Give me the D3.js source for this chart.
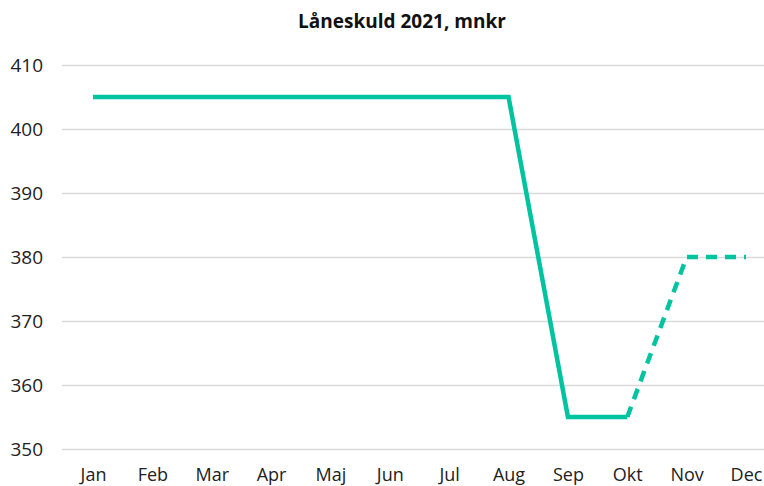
<!DOCTYPE html>
<html>
<head>
<meta charset="utf-8">
<script src="https://cdn.jsdelivr.net/npm/d3@7"></script>
<style>
  body { margin: 0; background: #fff; }
  svg { display: block; font-family: "Open Sans", sans-serif; }
</style>
</head>
<body>
<svg id="chart" width="764" height="486"></svg>
<script>
var months = ['Jan', 'Feb', 'Mar', 'Apr', 'Maj', 'Jun', 'Jul', 'Aug', 'Sep', 'Okt', 'Nov', 'Dec']
var actual = [405, 405, 405, 405, 405, 405, 405, 405, 355, 355, null, null]
var forecast = [null, null, null, null, null, null, null, null, null, 355, 380, 380]
var yTicks = [350, 360, 370, 380, 390, 400, 410]

var WIDTH = 764,
	HEIGHT = 486,
	LINE_COLOR = '#00c4a0',
	GRID_COLOR = '#d9d9d9',
	TEXT_COLOR = '#222'

var svg = d3.select('#chart')

var x = d3.scalePoint().domain(months).range([93, 746])
var y = d3.scaleLinear().domain([350, 410]).range([449, 65])

svg.append('text')
	.attr('x', 402)
	.attr('y', 28)
	.attr('text-anchor', 'middle')
	.attr('font-size', 19)
	.attr('font-weight', 'bold')
	.attr('fill', '#111')
	.text('Låneskuld 2021, mnkr')

// horizontal grid + y labels
var yAxis = svg.append('g')
	.attr('transform', 'translate(62,0)')
	.call(d3.axisLeft(y).tickValues(yTicks).tickSize(-(WIDTH - 62)).tickPadding(19))

yAxis.select('.domain').remove()
yAxis.selectAll('line').attr('stroke', GRID_COLOR).attr('stroke-width', 1.3)
yAxis.selectAll('text').attr('font-size', 19).attr('fill', TEXT_COLOR).attr('font-family', '"Open Sans", sans-serif')

// month labels (sit at the very bottom edge, as in the original)
var xAxis = svg.append('g')
	.attr('transform', 'translate(0,449)')
	.call(d3.axisBottom(x).tickSize(0))

xAxis.select('.domain').remove()
xAxis.selectAll('text')
	.attr('y', 32)
	.attr('dy', 0)
	.attr('font-size', 18)
	.attr('fill', TEXT_COLOR)
	.attr('font-family', '"Open Sans", sans-serif')

var line = d3.line()
	.defined(function(d){ return d != null })
	.x(function(d, i){ return x(months[i]) })
	.y(function(d){ return y(d) })

svg.append('path')
	.datum(actual)
	.attr('d', line)
	.attr('fill', 'none')
	.attr('stroke', LINE_COLOR)
	.attr('stroke-width', 4.5)
	.attr('stroke-linejoin', 'miter')

svg.append('path')
	.datum(forecast)
	.attr('d', line)
	.attr('fill', 'none')
	.attr('stroke', LINE_COLOR)
	.attr('stroke-width', 4.5)
	.attr('stroke-dasharray', '11,8')
	.attr('stroke-linejoin', 'round')
</script>
</body>
</html>
